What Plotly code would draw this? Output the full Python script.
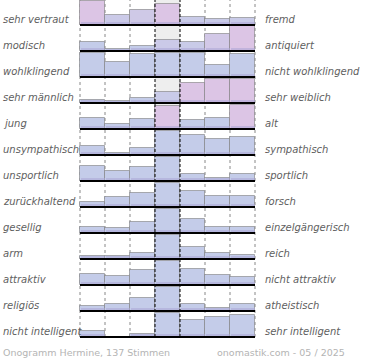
import plotly.graph_objects as go

# ---- data ----
left_labels = ["sehr vertraut", "modisch", "wohlklingend", "sehr männlich", "jung",
               "unsympathisch", "unsportlich", "zurückhaltend", "gesellig", "arm",
               "attraktiv", "religiös", "nicht intelligent"]
right_labels = ["fremd", "antiquiert", "nicht wohlklingend", "sehr weiblich", "alt",
                "sympathisch", "sportlich", "forsch", "einzelgängerisch", "reich",
                "nicht attraktiv", "atheistisch", "sehr intelligent"]
# relative bar heights per row (7 answer columns, 100 = full row height)
row_values = [
    [97, 39, 59, 83, 31, 25, 29],
    [38, 10, 20, 46, 38, 70, 100],
    [96, 60, 92, 96, 96, 50, 92],
    [12, 8, 20, 45, 80, 97, 98],
    [43, 21, 39, 93, 35, 45, 96],
    [36, 8, 30, 96, 80, 65, 72],
    [59, 42, 56, 96, 27, 13, 27],
    [22, 42, 58, 96, 66, 46, 46],
    [26, 20, 44, 96, 56, 24, 26],
    [11, 11, 24, 96, 47, 23, 17],
    [43, 35, 59, 96, 65, 41, 32],
    [19, 27, 51, 96, 27, 13, 27],
    [23, 0, 13, 96, 67, 79, 87],
]
footer_left = "Onogramm Hermine, 137 Stimmen"
footer_right = "onomastik.com - 05 / 2025"

# ---- style (tint: 0 = blue, 1 = pink) ----
row_tint = [
    [1, 0.3, 0.45, 1, 0.2, 0.2, 0.2],
    [0, 0, 0, 0.3, 0.2, 0.6, 1],
    [0, 0, 0, 0, 0, 0, 0],
    [0, 0, 0, 0.2, 1, 1, 1],
    [0, 0, 0, 1, 0, 0, 1],
    [0, 0, 0, 0, 0, 0, 0],
    [0, 0, 0, 0, 0, 0, 0],
    [0, 0, 0, 0, 0, 0, 0],
    [0, 0, 0, 0, 0, 0, 0],
    [0, 0, 0, 0, 0, 0, 0],
    [0, 0, 0, 0, 0, 0, 0],
    [0, 0, 0, 0, 0, 0, 0],
    [0, 0, 0, 0, 0, 0, 0],
]
BLUE = (196, 204, 233)
PINK = (220, 197, 229)
DARK = "#aca6d6"

W, H = 370, 360
COLW = 25.0
X0PX = 80.0
ROW_H = 26.0
FIRST_BASE = 25.0
FULL = 25.0

def px2x(p):
    return (p - X0PX) / COLW - 0.5

def blend(t):
    c = [round(BLUE[i] + (PINK[i] - BLUE[i]) * t) for i in range(3)]
    return "rgb(%d,%d,%d)" % tuple(c)

cols = list(range(7))
fig = go.Figure()

for k, vals in enumerate(row_values):
    base = -(FIRST_BASE + ROW_H * k)
    hs = [v / 100.0 * FULL for v in vals]
    fig.add_trace(go.Bar(
        x=cols, y=hs, base=[base] * 7, width=1.0,
        marker=dict(color=[blend(t) for t in row_tint[k]],
                    line=dict(color="rgba(125,125,125,0.6)", width=1)),
        hoverinfo="skip", showlegend=False))
    fig.add_trace(go.Bar(
        x=cols, y=[min(3.0, h) for h in hs], base=[base] * 7, width=0.96,
        marker=dict(color=DARK, line=dict(width=0)),
        opacity=0.55, hoverinfo="skip", showlegend=False))

shapes = []
last_base = FIRST_BASE + ROW_H * (len(row_values) - 1)
# central column background
shapes.append(dict(type="rect", xref="x", yref="y", x0=2.5, x1=3.5, y0=-last_base, y1=0,
                   fillcolor="#eeeeee", line=dict(width=0), layer="below"))
# dotted column separators
for c in [-0.5, 0.5, 1.5, 4.5, 5.5, 6.5]:
    shapes.append(dict(type="line", xref="x", yref="y", x0=c, x1=c, y0=-last_base, y1=0,
                       line=dict(color="#888888", width=1, dash="dot"), layer="below"))
# dashed central separators
for c in [2.5, 3.5]:
    shapes.append(dict(type="line", xref="x", yref="y", x0=c, x1=c, y0=-last_base, y1=0,
                       line=dict(color="#000000", width=1, dash="3px,2px"), layer="above"))
# row baselines
for k in range(len(row_values)):
    b = -(FIRST_BASE + ROW_H * k)
    shapes.append(dict(type="line", xref="x", yref="y", x0=-0.5, x1=6.5, y0=b, y1=b,
                       line=dict(color="#000000", width=2), layer="above"))

annotations = []
lab_font = dict(family="DejaVu Sans", size=10, color="#606060")
for k in range(len(row_values)):
    yb = -(FIRST_BASE + ROW_H * k) + 5.5
    annotations.append(dict(x=px2x(1), y=yb, xref="x", yref="y", text="<i>%s</i>" % left_labels[k],
                            showarrow=False, xanchor="left", yanchor="middle", font=lab_font))
    annotations.append(dict(x=px2x(263), y=yb, xref="x", yref="y", text="<i>%s</i>" % right_labels[k],
                            showarrow=False, xanchor="left", yanchor="middle", font=lab_font))
foot_font = dict(family="DejaVu Sans", size=9.5, color="#b4b4b4")
annotations.append(dict(x=px2x(1), y=-352, xref="x", yref="y", text=footer_left, showarrow=False,
                        xanchor="left", yanchor="middle", font=foot_font))
annotations.append(dict(x=px2x(347), y=-352, xref="x", yref="y", text=footer_right, showarrow=False,
                        xanchor="right", yanchor="middle", font=foot_font))

fig.update_layout(
    width=W, height=H, margin=dict(l=0, r=0, t=0, b=0),
    paper_bgcolor="white", plot_bgcolor="white",
    barmode="overlay", bargap=0,
    xaxis=dict(range=[px2x(0), px2x(W)], visible=False, fixedrange=True),
    yaxis=dict(range=[-H, 0], visible=False, fixedrange=True),
    shapes=shapes, annotations=annotations,
)

fig.write_html("out.html", config={"displayModeBar": False},
               post_script="document.body.style.margin='0';document.body.style.overflow='hidden';")
